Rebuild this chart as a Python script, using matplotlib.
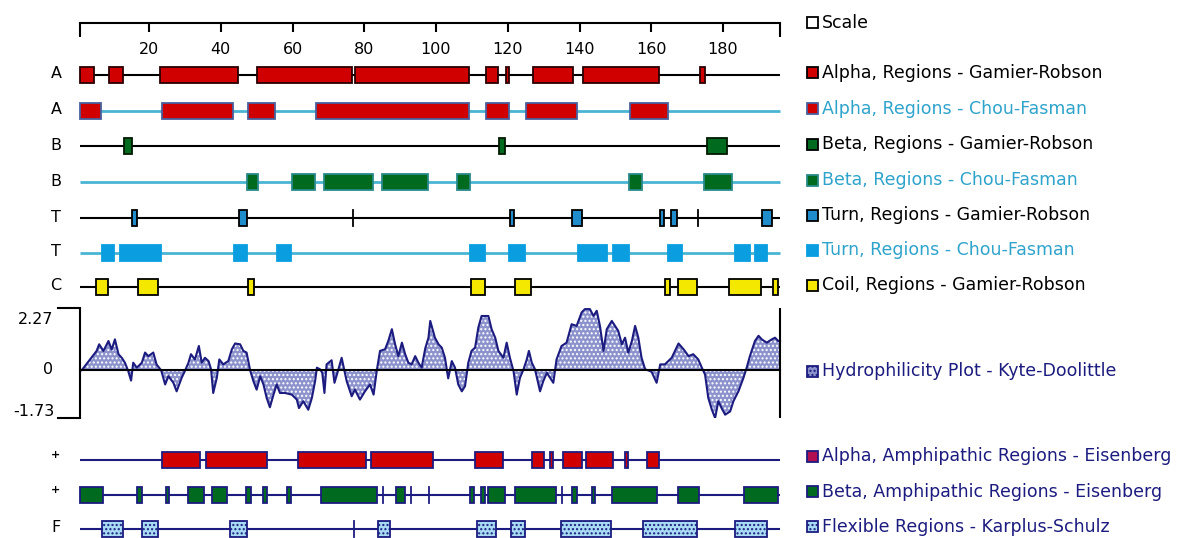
import matplotlib
matplotlib.use("Agg")
from matplotlib import pyplot as plt
from matplotlib.patches import Rectangle

# residue regions, (start, end)
alpha_gr = [(0.8, 4.8), (8.9, 12.7), (23.1, 44.8), (50.0, 76.7), (77.4, 109.3), (113.9, 117.3),
            (119.5, 120.3), (127.0, 138.3), (141.0, 162.2), (173.6, 175.0)]
alpha_cf = [(0.8, 6.5), (23.5, 43.5), (47.6, 55.1), (66.6, 109.3), (113.9, 120.4), (125.1, 139.4),
            (154.1, 164.8)]
beta_gr = [(13.0, 15.2), (117.6, 119.2), (175.5, 181.2)]
beta_cf = [(47.4, 50.4), (59.8, 66.4), (68.9, 82.4), (84.9, 97.9), (105.8, 109.5), (153.9, 157.3),
           (174.8, 182.6)]
turn_gr = [(15.4, 16.6), (45.1, 47.2), (77.0, 77.0), (120.6, 121.7), (138.0, 140.7), (162.4, 163.5),
           (165.5, 167.2), (173.0, 173.0), (191.0, 193.6)]
turn_cf = [(6.8, 10.2), (11.9, 23.3), (43.8, 47.2), (55.6, 59.5), (109.5, 113.7), (120.4, 124.9),
           (139.7, 147.6), (149.4, 153.7), (164.8, 168.5), (183.3, 187.5), (188.9, 192.4)]
coil_gr = [(5.1, 8.5), (16.8, 22.6), (47.7, 49.3), (109.7, 113.7), (122.0, 126.5), (163.8, 165.2),
           (167.5, 172.7), (181.8, 190.5), (194.0, 195.4)]
alpha_amph = [(23.5, 34.2), (35.8, 52.8), (61.6, 80.4), (81.9, 99.3), (110.9, 118.6), (126.8, 130.1),
              (131.8, 132.7), (135.5, 140.8), (141.7, 149.3), (152.8, 153.5), (158.7, 162.2)]
beta_amph = [(0.8, 7.3), (16.7, 18.0), (24.7, 25.7), (30.8, 35.4), (37.6, 41.7), (47.0, 48.3),
             (51.7, 52.8), (58.4, 59.5), (67.9, 83.5), (85.1, 85.1), (88.9, 91.4), (93.0, 93.0),
             (98.0, 98.0), (109.5, 110.6), (112.5, 113.7), (114.4, 119.2), (122.0, 133.4),
             (135.0, 135.0), (138.0, 139.4), (143.4, 144.3), (149.0, 161.7), (167.4, 173.4),
             (185.9, 195.4)]
flexible = [(6.8, 12.8), (18.0, 22.6), (42.6, 47.4), (77.1, 77.1), (83.9, 87.2), (111.5, 116.7),
            (120.8, 124.8), (134.8, 148.7), (157.6, 172.7), (183.4, 192.2)]

# Kyte-Doolittle trace
hydro_pos = [0.8, 1.2, 5.4, 6.1, 7.3, 8.7, 9.6, 10.5, 11.5, 12.4, 13.3, 14.2, 15.0, 15.6, 16.6, 18.0,
             18.9, 19.8, 21.2, 22.1, 23.4, 24.5, 25.4, 26.8, 27.7, 29.1, 30.0, 31.0, 31.7, 32.8,
             33.9, 34.7, 35.6, 36.6, 37.3, 37.9, 38.9, 39.6, 40.7, 42.1, 43.1, 44.0, 45.4, 46.3,
             47.2, 48.2, 49.1, 50.0, 51.0, 51.9, 52.8, 53.7, 54.7, 55.6, 56.5, 57.9, 59.8, 61.2,
             61.8, 63.0, 64.4, 65.4, 66.3, 66.8, 67.7, 68.3, 68.9, 69.5, 70.9, 71.7, 72.8, 73.7,
             74.5, 75.1, 76.5, 77.4, 78.8, 80.2, 81.6, 82.6, 83.5, 84.4, 85.8, 86.7, 87.7, 88.6,
             89.5, 90.5, 91.4, 92.3, 93.2, 94.2, 95.1, 96.0, 97.0, 97.9, 98.4, 99.7, 100.7, 101.6,
             102.5, 103.4, 104.4, 105.3, 106.2, 107.2, 108.1, 109.0, 109.9, 110.9, 111.8, 112.7,
             114.6, 115.5, 116.5, 117.4, 118.8, 119.7, 120.6, 121.6, 122.5, 123.4, 124.4, 125.3,
             125.9, 126.7, 127.6, 129.0, 129.9, 130.9, 131.8, 132.7, 133.6, 135.0, 136.4, 137.8,
             139.2, 140.6, 141.5, 142.9, 143.9, 144.8, 145.7, 146.7, 147.6, 149.0, 149.9, 150.8,
             151.8, 152.7, 153.6, 154.6, 155.5, 156.4, 157.3, 158.3, 159.2, 160.1, 161.5, 162.5,
             163.8, 165.7, 167.6, 169.0, 170.4, 171.7, 173.1, 174.1, 175.0, 175.9, 176.9, 177.8,
             178.7, 179.6, 180.6, 182.0, 182.9, 184.3, 185.7, 186.6, 187.5, 188.9, 189.9, 190.8,
             192.2, 193.6, 194.5, 195.4, 195.9]
hydro_val = [0.0, 0.0, 0.71, 0.95, 0.71, 1.07, 0.76, 1.13, 0.59, 0.46, 0.28, -0.02, -0.37, 0.28, 0.10,
             0.28, 0.65, 0.52, 0.65, 0.22, 0.0, -0.51, -0.21, -0.45, -0.76, -0.27, -0.02, 0.28, 0.59,
             0.40, 0.89, 0.28, 0.46, 0.34, 0.04, -0.82, -0.27, 0.40, 0.22, 0.34, 0.77, 0.98, 0.95,
             0.71, 0.65, 0.0, -0.39, -0.70, -0.21, -0.51, -1.00, -1.34, -0.88, -0.51, -0.82, -0.82,
             -0.88, -1.06, -1.37, -1.12, -1.43, -1.00, -0.39, 0.10, 0.04, -0.09, -0.82, 0.22, 0.37,
             -0.45, 0.04, 0.46, -0.02, -0.39, -0.94, -0.70, -1.06, -0.76, -0.51, -0.88, 0.0, 0.71,
             0.77, 1.07, 1.50, 0.95, 0.52, 1.01, 0.59, 0.28, 0.22, 0.52, 0.28, 0.10, 0.80, 1.19, 1.80,
             1.19, 0.95, 0.83, 0.46, -0.29, 0.34, 0.10, -0.51, -0.76, -0.57, 0.28, 0.71, 0.83, 1.56,
             1.98, 1.98, 1.50, 1.19, 0.71, 0.46, 1.01, 0.46, -0.02, -0.88, -0.27, 0.04, 0.40, 0.71,
             0.28, 0.04, -0.76, -0.39, -0.09, -0.27, -0.45, 0.40, 0.89, 1.01, 1.68, 1.62, 2.11, 2.23,
             2.23, 1.98, 2.17, 1.62, 0.71, 1.50, 1.80, 1.62, 1.44, 0.95, 1.19, 0.65, 1.07, 1.62, 1.19,
             0.46, 0.04, 0.0, -0.05, -0.45, 0.22, 0.22, 0.46, 0.98, 0.77, 0.52, 0.59, 0.40, 0.10,
             -0.15, -1.00, -1.43, -1.73, -1.12, -1.37, -1.61, -1.49, -1.12, -0.76, -0.27, 0.10, 0.52,
             1.07, 1.26, 1.13, 1.01, 1.13, 1.19, 1.07, 1.07]
hydro_max, hydro_min = 2.27, -1.73

scale_ticks = [20, 40, 60, 80, 100, 120, 140, 160, 180]
seq_start, seq_end = 0.8, 195.9

W, H = 1179, 538
PX0, PXR = 77.25, 3.5875   # pixel of residue 0, pixels per residue
RED, GREEN, NAVY = "#d00000", "#006b1f", "#1c1c80"
CF_LINE = "#4ab4d4"
CF_TEXT = "#2ea3cc"
HYDRO_FACE = "#8c92cc"
BOX_H = 16


def draw_track(ax, y, regions, line_color, face, edge, lw_line=1.5, hatch=None, thin_color=None):
    ax.plot([seq_start, seq_end], [y, y], color=line_color, lw=lw_line, zorder=1,
            solid_capstyle="butt")
    for start, end in regions:
        if end - start < 0.1:
            ax.plot([start, start], [y - BOX_H / 2, y + BOX_H / 2], color=thin_color or edge,
                    lw=1.3, zorder=2)
            continue
        ax.add_patch(Rectangle((start, y - BOX_H / 2), end - start, BOX_H, facecolor=face,
                               edgecolor=edge, lw=1.3, hatch=hatch, zorder=2))


def legend_item(lay, y, label, face, edge, color, hatch=None):
    lay.add_patch(Rectangle((807, y - 5.5), 11, 11, facecolor=face, edgecolor=edge, lw=1.3,
                            hatch=hatch))
    lay.text(822, y, label, color=color, fontsize=12.5, va="center", ha="left")


def main():
    plt.rcParams["font.family"] = ["DejaVu Sans"]
    plt.rcParams["hatch.linewidth"] = 1.0
    fig = plt.figure(figsize=(W / 100, H / 100), dpi=100)

    lay = fig.add_axes([0, 0, 1, 1])
    lay.set_xlim(0, W)
    lay.set_ylim(H, 0)
    lay.axis("off")

    ax = fig.add_axes([0, 0, 1, 1])
    ax.set_xlim(-PX0 / PXR, (W - PX0) / PXR)
    ax.set_ylim(H, 0)
    ax.axis("off")
    ax.patch.set_alpha(0)

    # scale bar
    ax.plot([seq_start, seq_end], [23.3, 23.3], color="black", lw=1.5)
    ax.vlines([seq_start, seq_end], 23.3, 37, color="black", lw=1.5)
    ax.vlines(scale_ticks, 23.3, 32, color="black", lw=1.5)
    for t in scale_ticks:
        ax.text(t, 49, str(t), ha="center", va="center", fontsize=11.5)

    draw_track(ax, 75, alpha_gr, "black", RED, "#2a0000")
    draw_track(ax, 111, alpha_cf, CF_LINE, RED, "#46619e", lw_line=2)
    draw_track(ax, 146, beta_gr, "black", GREEN, "#001a00")
    draw_track(ax, 182, beta_cf, CF_LINE, GREEN, "#2a8a8a", lw_line=2)
    draw_track(ax, 218, turn_gr, "black", "#1f8ccc", "black", thin_color="black")
    draw_track(ax, 253, turn_cf, CF_LINE, "#0a9ee0", "#0a9ee0", lw_line=2)
    draw_track(ax, 287, coil_gr, "black", "#f5e800", "black")
    draw_track(ax, 460, alpha_amph, NAVY, RED, NAVY)
    draw_track(ax, 495, beta_amph, NAVY, GREEN, NAVY, thin_color=NAVY)
    draw_track(ax, 529, flexible, NAVY, "#a8dcf4", NAVY, hatch="....", thin_color=NAVY)

    for y, lab in [(75, "A"), (111, "A"), (146, "B"), (182, "B"), (218, "T"), (253, "T"),
                   (287, "C"), (529, "F")]:
        lay.text(56, y - 1, lab, ha="center", va="center", fontsize=11.5)
    for y in [455, 490]:
        lay.text(56, y, "+", ha="center", va="center", fontsize=8, fontweight="bold")

    # hydrophilicity plot
    top, bot = 308, 418
    hx = fig.add_axes([0, 1 - bot / H, 1, (bot - top) / H])
    hx.set_xlim(-PX0 / PXR, (W - PX0) / PXR)
    hx.set_ylim(hydro_min, hydro_max)
    hx.axis("off")
    hx.patch.set_alpha(0)
    hx.fill_between(hydro_pos, hydro_val, 0, facecolor=HYDRO_FACE, edgecolor="white",
                    hatch="....", lw=0)
    hx.plot(hydro_pos, hydro_val, color=NAVY, lw=1.5)
    hx.plot([seq_start, seq_end], [0, 0], color="black", lw=1.5)
    hx.plot([seq_start, seq_start], [hydro_min, hydro_max], color="black", lw=1.5)
    hx.plot([seq_end, seq_end], [hydro_min, hydro_max], color="black", lw=1.5)
    lay.plot([58, 80], [top, top], color="black", lw=1.5)
    lay.plot([58, 80], [bot, bot], color="black", lw=1.5)
    lay.text(53, 320, f"{hydro_max:.2f}", ha="right", va="center", fontsize=11.5)
    lay.text(53, 370, "0", ha="right", va="center", fontsize=11.5)
    lay.text(55, 411, f"{hydro_min:.2f}", ha="right", va="center", fontsize=11.5)

    legend_item(lay, 22.7, "Scale", "white", "black", "black")
    legend_item(lay, 72.7, "Alpha, Regions - Gamier-Robson", RED, "black", "black")
    legend_item(lay, 108.7, "Alpha, Regions - Chou-Fasman", RED, "#46619e", CF_TEXT)
    legend_item(lay, 144, "Beta, Regions - Gamier-Robson", GREEN, "black", "black")
    legend_item(lay, 180, "Beta, Regions - Chou-Fasman", GREEN, "#2a8a8a", CF_TEXT)
    legend_item(lay, 215, "Turn, Regions - Gamier-Robson", "#1f8ccc", "black", "black")
    legend_item(lay, 250, "Turn, Regions - Chou-Fasman", "#0a9ee0", "#0a9ee0", CF_TEXT)
    legend_item(lay, 285, "Coil, Regions - Gamier-Robson", "#f5e800", "black", "black")
    legend_item(lay, 371, "Hydrophilicity Plot - Kyte-Doolittle", HYDRO_FACE, NAVY, NAVY,
                hatch="....")
    legend_item(lay, 456, "Alpha, Amphipathic Regions - Eisenberg", "#b01050", NAVY, NAVY)
    legend_item(lay, 491.7, "Beta, Amphipathic Regions - Eisenberg", GREEN, NAVY, NAVY)
    legend_item(lay, 526.7, "Flexible Regions - Karplus-Schulz", "#a8dcf4", NAVY, NAVY,
                hatch="....")

    fig.savefig("out.png", dpi=100)


if __name__ == "__main__":
    main()
